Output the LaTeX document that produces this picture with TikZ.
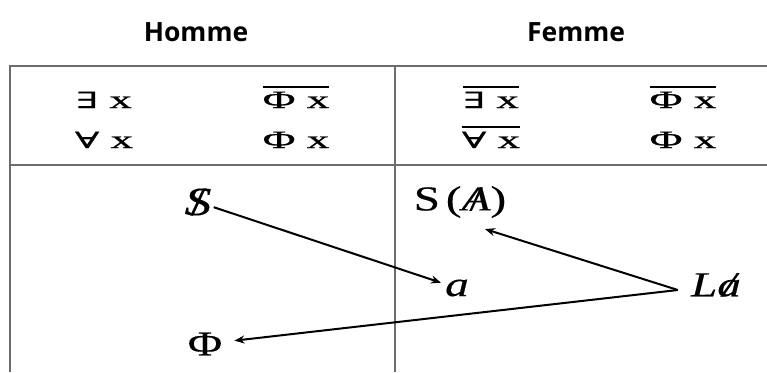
\documentclass[tikz,border=0pt]{standalone}
\usepackage{fontspec}
\setmainfont{Liberation Serif}
\newfontfamily\headfont{Open Sans}
\newfontfamily\widefont[FakeStretch=1.8,FakeBold=0.8]{Liberation Serif}
\newfontfamily\widesym[FakeStretch=1.8,FakeBold=0.8,Scale=0.9]{DejaVu Serif}
\newfontfamily\bottomfont[FakeStretch=1.35,FakeBold=0.3]{Liberation Serif}
\usetikzlibrary{arrows.meta}

% overline over a whole formula, barred letter
\newcommand{\ovl}[1]{\vbox{\hrule height 1.8pt\kern 4pt\hbox{#1}}}
\newcommand{\barre}[1]{\ooalign{#1\cr\hidewidth/\hidewidth\cr}}

\tikzset{
    header/.style={inner sep=0pt, font=\fontsize{26.5}{30}\headfont\bfseries},
    formula/.style={inner sep=0pt, anchor=base, font=\fontsize{25}{30}\widefont},
    mathem/.style={inner sep=4pt, font=\fontsize{35}{40}\bottomfont},
    frame/.style={draw=gray!85!black, line width=1.8pt},
    link/.style={-{Stealth[length=10pt,width=8pt]}, line width=2pt}
}

\begin{document}
\begin{tikzpicture}[x=1pt, y=-1pt]

\useasboundingbox (0,0) rectangle (767,372);

% Headers
\node[header] (homme) at (196,32) {Homme};
\node[header] (femme) at (576,32) {Femme};

% Frame
\draw[frame] (10,372) -- (10,66) -- (767,66);
\draw[frame] (10,165) -- (767,165);
\draw[frame] (395,66) -- (395,372);

% Upper row, left side
\node[formula] (exl) at (104,108) {{\widesym ∃} x};
\node[formula] (alll) at (104,148) {{\widesym ∀} x};
\node[formula] (phil) at (296,108) {\ovl{Φ x}};
\node[formula] (phil2) at (296,148) {Φ x};

% Upper row, right side
\node[formula] (exr) at (491,108) {\ovl{{\widesym ∃} x}};
\node[formula] (allr) at (491,148) {\ovl{{\widesym ∀} x}};
\node[formula] (phir) at (683,108) {\ovl{Φ x}};
\node[formula] (phir2) at (683,148) {Φ x};

% Lower row
\node[mathem, font=\fontsize{40}{44}\bottomfont, inner sep=2pt] (s) at (198,202) {\barre{\itshape S}};
\node[mathem] (phi) at (205,344) {Φ};
\node[mathem] (sa) at (460,202) {S\,(\barre{\itshape A})};
\node[mathem] (a) at (457,288) {\itshape a};
\node[mathem] (la) at (716,285) {\itshape L\barre{a}};

% Arrows
\draw[link] (s) -- (a);
\draw[link] ([xshift=-9pt,yshift=-5pt]la.west) -- ([xshift=25pt,yshift=-7pt]sa.south);
\draw[link, shorten >=8pt] ([xshift=-9pt,yshift=-5pt]la.west) -- (phi);

\end{tikzpicture}
\end{document}
